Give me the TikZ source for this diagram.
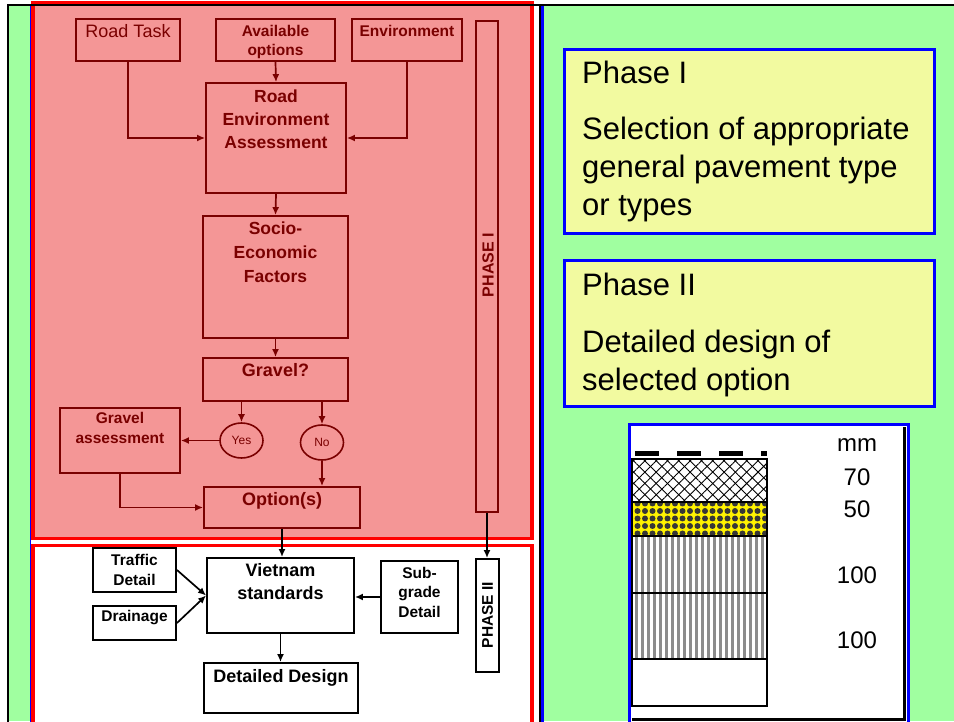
\documentclass[tikz,border=0pt]{standalone}
\usepackage{fontspec}
\setmainfont{Liberation Sans}
\usetikzlibrary{arrows.meta,shapes.geometric,patterns.meta}
\definecolor{bggreen}{RGB}{160,255,160}
\definecolor{pinkfill}{RGB}{244,150,150}
\definecolor{drk}{RGB}{122,0,0}
\definecolor{paleyel}{RGB}{242,250,160}
\definecolor{bluel}{RGB}{0,0,255}
\definecolor{redl}{RGB}{255,0,0}
\definecolor{dotgray}{RGB}{55,55,55}
\definecolor{stripegray}{RGB}{140,140,140}
\newcommand{\ctext}[2]{\parbox[t]{#1pt}{\centering #2}}
\newcommand{\ltext}[2]{\parbox[t]{#1pt}{\raggedright #2}}
\tikzset{
  rbox/.style={draw=drk, line width=1.8, inner sep=0pt},
  bbox/.style={draw=black, line width=1.9, fill=white, inner sep=0pt},
  rtxt/.style={text=drk, inner sep=0pt, anchor=base},
  btxt/.style={text=black, inner sep=0pt, anchor=base},
  rarr/.style={draw=drk, line width=1.7, -{Latex[length=8pt,width=7pt]}},
  barr/.style={draw=black, line width=1.7, -{Latex[length=8pt,width=7pt]}},
  phbox/.style={draw=bluel, line width=3, fill=paleyel, inner sep=0pt, anchor=north west},
  phtxt/.style={anchor=base west, inner sep=0pt, font=\fontsize{31}{38}\selectfont},
  layer/.style={draw=black, line width=1.5},
  mmtxt/.style={anchor=base, inner sep=0pt, font=\fontsize{24}{28}\selectfont},
  oval/.style={ellipse, draw=drk, line width=1.6, minimum width=43, minimum height=35, inner sep=0pt, text=drk, font=\fontsize{12}{14}\selectfont},
}
\begin{document}
\begin{tikzpicture}[x=1pt,y=-1pt]
\useasboundingbox (0,0) rectangle (954,721);
\fill[white] (0,0) rectangle (954,721);
\fill[bggreen] (8,5) rectangle (954,721);
% left panel frames
\fill[white] (31,5) rectangle (539.5,721);
\draw[bluel, line width=1.5] (30.5,5) -- (30.5,725);
\draw[black, line width=2] (539.5,5) -- (539.5,725);
\draw[bluel, line width=2.5] (542.5,5) -- (542.5,725);
\draw[redl, line width=3.5, fill=pinkfill] (33,3) rectangle (532,538.5);
\draw[redl, line width=3.5, fill=white] (33,545.5) rectangle (532,740);
% outer frame
\draw[black, line width=2.5] (8,725) -- (8,5) -- (960,5);

% ---------- right panel ----------
\node[phbox, minimum width=370, minimum height=184] (p1box) at (563,48) {};
\node[phbox, minimum width=370, minimum height=146] (p2box) at (563,259) {};
\node[phtxt] (p1t) at (582,83) {Phase I};
\node[phtxt] (p1d) at (582,139) {\ltext{348}{Selection of appropriate\\general pavement type\\or types}};
\node[phtxt] (p2t) at (582,295) {Phase II};
\node[phtxt] (p2d) at (582,352) {\ltext{348}{Detailed design of\\selected option}};

% pavement section
\draw[bluel, line width=3, fill=white] (629.5,424) rectangle (908.5,740);
\draw[black, line width=3.5] (904.5,427) -- (904.5,721);
\draw[black, line width=2.5] (632,719.5) -- (906,719.5);
\draw[black, line width=5, dash pattern=on 24pt off 18pt] (635,453.5) -- (767,453.5);
\fill[white] (632,459) rectangle (767,502);
\fill[pattern={Lines[angle=45,distance=8pt,line width=0.9pt]}] (632,459) rectangle (767,502);
\fill[pattern={Lines[angle=-45,distance=8pt,line width=0.9pt]}] (632,459) rectangle (767,502);
\draw[layer] (632,459) rectangle (767,502);
\fill[yellow] (632,502) rectangle (767,536);
\fill[pattern={Dots[radius=3pt,distance=7.5pt]}, pattern color=dotgray] (632,502) rectangle (767,536);
\draw[layer] (632,502) rectangle (767,536);
\fill[white] (632,536) rectangle (767,659);
\fill[pattern={Lines[angle=90,distance=6pt,line width=3pt]}, pattern color=stripegray] (632,536) rectangle (767,659);
\draw[layer] (632,536) rectangle (767,593);
\draw[layer] (632,593) rectangle (767,659);
\draw[layer, fill=white] (632,659) rectangle (767,706);
\node[mmtxt] (mm) at (857,451) {mm};
\node[mmtxt] (t70) at (857,485) {70};
\node[mmtxt] (t50) at (857,517) {50};
\node[mmtxt] (t100a) at (857,583) {100};
\node[mmtxt] (t100b) at (857,648) {100};

% ---------- phase I flow ----------
\node[rbox, minimum width=104, minimum height=42] (rt) at (128,40) {};
\node[rtxt, font=\fontsize{18}{21}\selectfont] (rtt) at (128,37) {Road Task};
\node[rbox, minimum width=119, minimum height=42] (av) at (275.5,40) {};
\node[rtxt, font=\fontsize{15.5}{19}\selectfont\bfseries] (avt) at (275.5,36) {\ctext{115}{Available\\options}};
\node[rbox, minimum width=110, minimum height=42] (env) at (407,40) {};
\node[rtxt, font=\fontsize{15.5}{19}\selectfont\bfseries] (envt) at (407,36) {Environment};
\node[rbox, minimum width=22, minimum height=491] (ph1) at (487,266.5) {};
\node[rotate=90, inner sep=0pt, text=drk, font=\fontsize{16}{19}\selectfont\bfseries] (ph1t) at (488,265) {PHASE I};

\node[rbox, minimum width=140, minimum height=110] (rea) at (276,138) {};
\node[rtxt, font=\fontsize{17.5}{23}\selectfont\bfseries] (reat) at (276,102) {\ctext{136}{Road\\Environment\\Assessment}};
\node[rbox, minimum width=145, minimum height=122] (soc) at (275.5,277) {};
\node[rtxt, font=\fontsize{17.5}{24}\selectfont\bfseries] (soct) at (275.5,234) {\ctext{140}{Socio-\\Economic\\Factors}};
\node[rbox, minimum width=145, minimum height=43] (grv) at (275.5,379.5) {};
\node[rtxt, font=\fontsize{18}{21}\selectfont\bfseries] (grvt) at (275.5,376) {Gravel?};
\node[oval] (yes) at (241.5,440.5) {Yes};
\node[oval] (no) at (322,442.5) {No};
\node[rbox, minimum width=120, minimum height=65] (ga) at (120,440.5) {};
\node[rtxt, font=\fontsize{15.5}{20}\selectfont\bfseries] (gat) at (120,423) {\ctext{116}{Gravel\\assessment}};
\node[rbox, minimum width=156, minimum height=41] (opt) at (282,507.5) {};
\node[rtxt, font=\fontsize{18}{21}\selectfont\bfseries] (optt) at (282,505.7) {Option(s)};

\draw[rarr] (av.south) -- (rea.north);
\draw[rarr] (rt.south) |- (rea.west);
\draw[rarr] (env.south) |- (rea.east);
\draw[rarr] (rea.south) -- (soc.north);
\draw[rarr] (soc.south) -- (grv.north);
\draw[rarr] (grv.south -| yes.north) -- (yes.north);
\draw[rarr] (grv.south -| no.north) -- (no.north);
\draw[rarr] (yes.west) -- (ga.east);
\draw[rarr] (no.south) -- (no.south |- opt.north);
\draw[rarr] (ga.south) |- (opt.west);

% ---------- phase II flow ----------
\node[bbox, minimum width=83, minimum height=44] (td) at (134.5,570) {};
\node[btxt, font=\fontsize{15.5}{20}\selectfont\bfseries] (tdt) at (134.5,565) {\ctext{80}{Traffic\\Detail}};
\node[bbox, minimum width=83, minimum height=34] (dr) at (134.5,623) {};
\node[btxt, font=\fontsize{15.5}{20}\selectfont\bfseries] (drt) at (134.5,621.7) {Drainage};
\node[bbox, minimum width=147, minimum height=75] (vn) at (280.5,595.5) {};
\node[btxt, font=\fontsize{18}{22.7}\selectfont\bfseries] (vnt) at (280.5,576.7) {\ctext{143}{Vietnam\\standards}};
\node[bbox, minimum width=77, minimum height=72] (sub) at (419.5,597) {};
\node[btxt, font=\fontsize{15.5}{19.5}\selectfont\bfseries] (subt) at (419.5,578.3) {\ctext{74}{Sub-\\grade\\Detail}};
\node[bbox, minimum width=154, minimum height=50] (dd) at (281,688) {};
\node[btxt, font=\fontsize{18}{21}\selectfont\bfseries] (ddt) at (281,682.3) {Detailed Design};
\node[bbox, minimum width=23, minimum height=113] (ph2) at (487.5,615.5) {};
\node[rotate=90, inner sep=0pt, text=black, font=\fontsize{15.5}{19}\selectfont\bfseries] (ph2t) at (487.5,615) {PHASE II};

\draw[barr] (opt.south) -- (opt.south |- vn.north);
\draw[barr] (ph1.south) -- (ph1.south |- ph2.north);
\draw[barr] (td.east) -- (vn.west);
\draw[barr] (dr.east) -- (vn.west);
\draw[barr] (sub.west) -- (sub.west -| vn.east);
\draw[barr] (vn.south) -- (vn.south |- dd.north);
\end{tikzpicture}
\end{document}
